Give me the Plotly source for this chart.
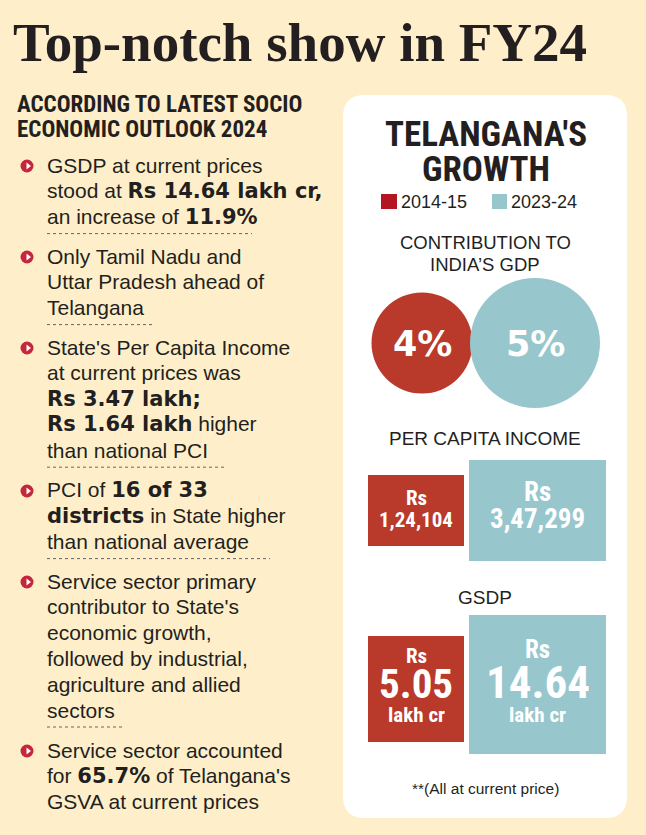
import plotly.graph_objects as go

# ---------------- data ----------------
title_text = "Top-notch show in FY24"
heading_lines = ["ACCORDING TO LATEST SOCIO", "ECONOMIC OUTLOOK 2024"]

BOLD_OPEN = "<span style='font-family:DejaVu Sans'><b>"
BOLD_CLOSE = "</b></span>"

bullets = [
    ["GSDP at current prices", "stood at {B}Rs 14.64 lakh cr,{E}", "an increase of {B}11.9%{E}"],
    ["Only Tamil Nadu and", "Uttar Pradesh ahead of", "Telangana"],
    ["State's Per Capita Income", "at current prices was", "{B}Rs 3.47 lakh;{E}",
     "{B}Rs 1.64 lakh{E} higher", "than national PCI"],
    ["PCI of {B}16 of 33{E}", "{B}districts{E} in State higher", "than national average"],
    ["Service sector primary", "contributor to State's", "economic growth,",
     "followed by industrial,", "agriculture and allied", "sectors"],
    ["Service sector accounted", "for {B}65.7%{E} of Telangana's", "GSVA at current prices"],
]

years = ["2014-15", "2023-24"]
contrib_pct = [4, 5]
pci_rs = ["1,24,104", "3,47,299"]
gsdp_lakh_cr = ["5.05", "14.64"]

# ---------------- style / layout ----------------
W, H = 646, 835
BG = "#FEEFCA"
RED = "#B9392A"
RED_LEG = "#B3161F"
TEAL = "#97C7CD"
CRIMSON = "#C4263B"
INK = "#231F20"
SANS = "Liberation Sans, Arial, sans-serif"
NARROW = "Roboto Condensed, Open Sans Condensed, sans-serif"
SERIF = "Liberation Serif, DejaVu Serif, serif"
HEAVY = "DejaVu Sans, sans-serif"

bullet_first_y = [165, 256, 347, 490, 581, 750]
line_gap = 25.8
sep_lengths = [205, 108, 178, 223, 76, None]
text_x = 45

fig = go.Figure()
ann = []
shapes = []

# title
ann.append(dict(x=11, y=42, text=f"<b>{title_text}</b>", xanchor="left", yanchor="middle",
                font=dict(family=SERIF, size=55, color=INK)))
# heading
for i, t in enumerate(heading_lines):
    ann.append(dict(x=15, y=104 + i * 25, text=f"<b>{t}</b>", xanchor="left", yanchor="middle",
                    font=dict(family=NARROW, size=23, color=INK)))

# bullets
bx, by = [], []
for bi, lines in enumerate(bullets):
    y0 = bullet_first_y[bi]
    bx.append(27)
    by.append(y0 + 1)
    for li, t in enumerate(lines):
        t = t.replace("{B}", BOLD_OPEN).replace("{E}", BOLD_CLOSE)
        ann.append(dict(x=text_x, y=y0 + li * line_gap, text=t, xanchor="left", yanchor="middle",
                        font=dict(family=SANS, size=21, color=INK)))
    if sep_lengths[bi]:
        ys = y0 + (len(lines) - 1) * line_gap + 17
        shapes.append(dict(type="line", xref="x", yref="y", x0=47, x1=47 + sep_lengths[bi],
                           y0=ys, y1=ys, line=dict(color="#666666", width=1, dash="dot")))

fig.add_trace(go.Scatter(x=bx, y=by, mode="markers", hoverinfo="skip",
                         marker=dict(size=13, color=CRIMSON, line=dict(width=0))))
fig.add_trace(go.Scatter(x=[v + 1 for v in bx], y=by, mode="markers", hoverinfo="skip",
                         marker=dict(size=6, color="white", symbol="triangle-right", line=dict(width=0))))

# right panel (rounded)
L, R, T, B, r = 343, 627, 95, 818, 22
path = (f"M {L+r},{T} L {R-r},{T} Q {R},{T} {R},{T+r} L {R},{B-r} Q {R},{B} {R-r},{B} "
        f"L {L+r},{B} Q {L},{B} {L},{B-r} L {L},{T+r} Q {L},{T} {L+r},{T} Z")
shapes.append(dict(type="path", path=path, xref="x", yref="y", fillcolor="white",
                   line=dict(width=0), layer="below"))

cx = 485
ann.append(dict(x=486, y=134, text="<b>TELANGANA'S</b>", xanchor="center", yanchor="middle",
                font=dict(family=NARROW, size=35, color=INK)))
ann.append(dict(x=486, y=169, text="<b>GROWTH</b>", xanchor="center", yanchor="middle",
                font=dict(family=NARROW, size=35, color=INK)))

# legend
shapes.append(dict(type="rect", xref="x", yref="y", x0=381, x1=397, y0=194, y1=209,
                   fillcolor=RED_LEG, line=dict(width=0)))
shapes.append(dict(type="rect", xref="x", yref="y", x0=492, x1=507, y0=194, y1=209,
                   fillcolor=TEAL, line=dict(width=0)))
ann.append(dict(x=399, y=202, text=years[0], xanchor="left", yanchor="middle",
                font=dict(family=SANS, size=18, color=INK)))
ann.append(dict(x=509, y=202, text=years[1], xanchor="left", yanchor="middle",
                font=dict(family=SANS, size=18, color=INK)))

# contribution circles
ann.append(dict(x=cx, y=242, text="CONTRIBUTION TO", xanchor="center", yanchor="middle",
                font=dict(family=SANS, size=18.5, color=INK)))
ann.append(dict(x=cx, y=264, text="INDIA’S GDP", xanchor="center", yanchor="middle",
                font=dict(family=SANS, size=18.5, color=INK)))
circ_x = [422, 535]
circ_d = [101, 130]
fig.add_trace(go.Scatter(x=circ_x, y=[343, 343], mode="markers", hoverinfo="skip",
                         marker=dict(size=circ_d, color=[RED, TEAL], opacity=1, line=dict(width=0))))
for xv, v in zip(circ_x, contrib_pct):
    ann.append(dict(x=xv, y=344, text=f"<b>{v}%</b>", xanchor="center", yanchor="middle",
                    font=dict(family=HEAVY, size=35, color="white")))

# per capita income boxes
ann.append(dict(x=cx, y=438, text="PER CAPITA INCOME", xanchor="center", yanchor="middle",
                font=dict(family=SANS, size=19, color=INK)))
box_x = [416, 537.5]
box_w = [96, 137]
fig.add_trace(go.Bar(x=box_x, width=box_w, base=[475, 460], y=[71, 101],
                     marker=dict(color=[RED, TEAL], line=dict(width=0)), hoverinfo="skip"))
ann.append(dict(x=box_x[0], y=498, text="<b>Rs</b>", xanchor="center", yanchor="middle",
                font=dict(family=NARROW, size=21, color="white")))
ann.append(dict(x=box_x[0], y=520, text=f"<b>{pci_rs[0]}</b>", xanchor="center", yanchor="middle",
                font=dict(family=NARROW, size=21, color="white")))
ann.append(dict(x=box_x[1], y=492, text="<b>Rs</b>", xanchor="center", yanchor="middle",
                font=dict(family=NARROW, size=27, color="white")))
ann.append(dict(x=box_x[1], y=519, text=f"<b>{pci_rs[1]}</b>", xanchor="center", yanchor="middle",
                font=dict(family=NARROW, size=27, color="white")))

# GSDP boxes
ann.append(dict(x=cx, y=597, text="GSDP", xanchor="center", yanchor="middle",
                font=dict(family=SANS, size=19, color=INK)))
fig.add_trace(go.Bar(x=box_x, width=box_w, base=[636, 615], y=[106, 139],
                     marker=dict(color=[RED, TEAL], line=dict(width=0)), hoverinfo="skip"))
ann.append(dict(x=box_x[0], y=656, text="<b>Rs</b>", xanchor="center", yanchor="middle",
                font=dict(family=NARROW, size=21, color="white")))
ann.append(dict(x=box_x[0], y=684, text=f"<b>{gsdp_lakh_cr[0]}</b>", xanchor="center", yanchor="middle",
                font=dict(family=NARROW, size=41, color="white")))
ann.append(dict(x=box_x[0], y=715, text="<b>lakh cr</b>", xanchor="center", yanchor="middle",
                font=dict(family=NARROW, size=21, color="white")))
ann.append(dict(x=box_x[1], y=649, text="<b>Rs</b>", xanchor="center", yanchor="middle",
                font=dict(family=NARROW, size=25, color="white")))
ann.append(dict(x=box_x[1], y=682, text=f"<b>{gsdp_lakh_cr[1]}</b>", xanchor="center", yanchor="middle",
                font=dict(family=NARROW, size=45, color="white")))
ann.append(dict(x=box_x[1], y=715, text="<b>lakh cr</b>", xanchor="center", yanchor="middle",
                font=dict(family=NARROW, size=21, color="white")))

ann.append(dict(x=cx, y=788, text="**(All at current price)", xanchor="center", yanchor="middle",
                font=dict(family=SANS, size=15.5, color=INK)))

for a in ann:
    a.setdefault("showarrow", False)
    a.setdefault("xref", "x")
    a.setdefault("yref", "y")

fig.update_layout(
    width=W, height=H, margin=dict(l=0, r=0, t=0, b=0),
    paper_bgcolor=BG, plot_bgcolor=BG, showlegend=False, barmode="overlay",
    xaxis=dict(range=[0, W], visible=False, fixedrange=True),
    yaxis=dict(range=[H, 0], visible=False, fixedrange=True),
    annotations=ann, shapes=shapes,
)

fig.write_html("out.html", config={"displayModeBar": False},
               post_script="document.body.style.margin='0';")
